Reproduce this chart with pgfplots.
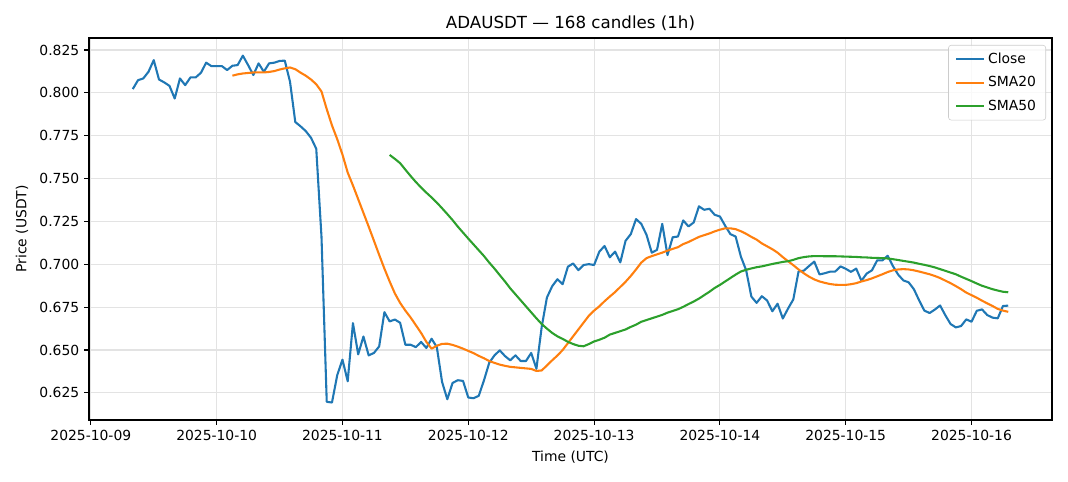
\documentclass[border=0pt]{standalone}
\usepackage{pgfplots}
\pgfplotsset{compat=1.18}
\usepackage{fontspec}
\setmainfont{DejaVu Sans}
\definecolor{tabblue}{HTML}{1F77B4}
\definecolor{taborange}{HTML}{FF7F0E}
\definecolor{tabgreen}{HTML}{2CA02C}
\begin{document}
\begin{tikzpicture}
\useasboundingbox (0,0) rectangle (768.96bp,346.32bp);
\begin{axis}[
  at={(64.08bp,43.92bp)}, anchor=south west,
  scale only axis, width=693.36bp, height=275.04bp,
  xmin=-0.35, xmax=183.35, ymin=0.6092, ymax=0.832,
  xtick={0,24,48,72,96,120,144,168},
  xticklabels={2025-10-09,2025-10-10,2025-10-11,2025-10-12,2025-10-13,2025-10-14,2025-10-15,2025-10-16},
  ytick={0.625,0.65,0.675,0.7,0.725,0.75,0.775,0.8,0.825},
  yticklabel style={/pgf/number format/.cd,fixed,fixed zerofill,precision=3,assume math mode=true},
  /pgf/number format/assume math mode=true,
  scaled y ticks=false,
  tick align=outside, major tick length=3.5bp,
  tick style={black, line width=0.8bp},
  xtick pos=bottom, ytick pos=left,
  axis line style={black, line width=0.8bp},
  grid=major, major grid style={black!11, line width=0.8bp},
  ticklabel style={font=\fontsize{10bp}{12bp}\selectfont},
  label style={font=\fontsize{10bp}{12bp}\selectfont},
  xlabel={Time (UTC)}, ylabel={Price (USDT)},
  xlabel style={at={(axis description cs:0.5,-0.0969)}, anchor=center},
  ylabel style={at={(axis description cs:-0.0696,0.5)}, anchor=center},
  title={ADAUSDT — 168 candles (1h)},
  title style={font=\fontsize{12bp}{14bp}\selectfont, at={(axis description cs:0.5,1)}, anchor=south, yshift=-4bp},
  legend style={at={(axis description cs:0.9938,0.9817)}, anchor=north east,
    draw=black!20, rounded corners=2bp, fill=white, fill opacity=0.8, text opacity=1, draw opacity=1,
    font=\fontsize{10bp}{12bp}\selectfont, row sep=4bp, inner xsep=5bp, inner ysep=3.5bp},
  legend cell align=left,
  legend image code/.code={\draw[#1, line width=1.5bp] (0bp,0bp) -- (20bp,0bp);},
]
\addplot[tabblue, line width=1.5bp, line join=round] coordinates {
(8,0.8022)(9,0.8074)(10,0.8084)(11,0.8123)(12,0.8191)(13,0.8078)(14,0.8061)(15,0.8041)(16,0.7967)(17,0.8084)
(18,0.8045)(19,0.8090)(20,0.8090)(21,0.8117)(22,0.8176)(23,0.8156)(24,0.8156)(25,0.8156)(26,0.8133)(27,0.8158)
(28,0.8162)(29,0.8217)(30,0.8162)(31,0.8104)(32,0.8172)(33,0.8123)(34,0.8172)(35,0.8176)(36,0.8186)(37,0.8188)
(38,0.8064)(39,0.7830)(40,0.7805)(41,0.7777)(42,0.7738)(43,0.7674)(44,0.7160)(45,0.6198)(46,0.6194)(47,0.6353)
(48,0.6444)(49,0.6318)(50,0.6657)(51,0.6475)(52,0.6579)(53,0.6469)(54,0.6483)(55,0.6521)(56,0.6721)(57,0.6667)
(58,0.6678)(59,0.6659)(60,0.6531)(61,0.6531)(62,0.6517)(63,0.6547)(64,0.6512)(65,0.6566)(66,0.6517)(67,0.6314)
(68,0.6213)(69,0.6308)(70,0.6324)(71,0.6320)(72,0.6223)(73,0.6219)(74,0.6233)(75,0.6324)(76,0.6426)(77,0.6469)
(78,0.6498)(79,0.6465)(80,0.6440)(81,0.6469)(82,0.6436)(83,0.6436)(84,0.6483)(85,0.6391)(86,0.6634)(87,0.6806)
(88,0.6872)(89,0.6913)(90,0.6884)(91,0.6986)(92,0.7005)(93,0.6966)(94,0.6996)(95,0.7001)(96,0.6996)(97,0.7074)
(98,0.7107)(99,0.7041)(100,0.7074)(101,0.7011)(102,0.7137)(103,0.7176)(104,0.7264)(105,0.7236)(106,0.7172)(107,0.7068)
(108,0.7084)(109,0.7236)(110,0.7054)(111,0.7158)(112,0.7162)(113,0.7256)(114,0.7221)(115,0.7244)(116,0.7338)(117,0.7318)
(118,0.7324)(119,0.7289)(120,0.7279)(121,0.7225)(122,0.7176)(123,0.7162)(124,0.7045)(125,0.6966)(126,0.6812)(127,0.6775)
(128,0.6814)(129,0.6789)(130,0.6726)(131,0.6770)(132,0.6684)(133,0.6742)(134,0.6795)(135,0.6958)(136,0.6963)(137,0.6990)
(138,0.7016)(139,0.6941)(140,0.6948)(141,0.6957)(142,0.6958)(143,0.6988)(144,0.6974)(145,0.6956)(146,0.6975)(147,0.6904)
(148,0.6946)(149,0.6965)(150,0.7023)(151,0.7023)(152,0.7050)(153,0.6990)(154,0.6940)(155,0.6906)(156,0.6895)(157,0.6855)
(158,0.6790)(159,0.6730)(160,0.6716)(161,0.6736)(162,0.6760)(163,0.6703)(164,0.6652)(165,0.6632)(166,0.6640)(167,0.6679)
(168,0.6665)(169,0.6729)(170,0.6737)(171,0.6704)(172,0.6689)(173,0.6685)(174,0.6757)(175,0.6759)
};
\addlegendentry{Close}
\addplot[taborange, line width=1.5bp, line join=round] coordinates {
(27,0.8100)(28,0.8108)(29,0.8113)(30,0.8116)(31,0.8119)(32,0.8119)(33,0.8119)(34,0.8122)(35,0.8127)(36,0.8136)
(37,0.8143)(38,0.8148)(39,0.8138)(40,0.8118)(41,0.8100)(42,0.8078)(43,0.8050)(44,0.8008)(45,0.7905)(46,0.7810)
(47,0.7730)(48,0.7640)(49,0.7535)(50,0.7460)(51,0.7380)(52,0.7300)(53,0.7220)(54,0.7138)(55,0.7055)(56,0.6975)
(57,0.6900)(58,0.6830)(59,0.6775)(60,0.6730)(61,0.6690)(62,0.6645)(63,0.6600)(64,0.6548)(65,0.6508)(66,0.6525)
(67,0.6536)(68,0.6537)(69,0.6530)(70,0.6520)(71,0.6508)(72,0.6495)(73,0.6482)(74,0.6466)(75,0.6452)(76,0.6436)
(77,0.6425)(78,0.6415)(79,0.6408)(80,0.6402)(81,0.6399)(82,0.6396)(83,0.6393)(84,0.6390)(85,0.6378)(86,0.6381)
(87,0.6410)(88,0.6440)(89,0.6468)(90,0.6500)(91,0.6540)(92,0.6580)(93,0.6620)(94,0.6660)(95,0.6700)(96,0.6730)
(97,0.6755)(98,0.6785)(99,0.6812)(100,0.6838)(101,0.6868)(102,0.6898)(103,0.6932)(104,0.6970)(105,0.7010)(106,0.7036)
(107,0.7048)(108,0.7058)(109,0.7068)(110,0.7080)(111,0.7090)(112,0.7100)(113,0.7118)(114,0.7130)(115,0.7145)(116,0.7160)
(117,0.7170)(118,0.7180)(119,0.7192)(120,0.7202)(121,0.7210)(122,0.7210)(123,0.7205)(124,0.7193)(125,0.7178)(126,0.7160)
(127,0.7144)(128,0.7122)(129,0.7105)(130,0.7088)(131,0.7068)(132,0.7042)(133,0.7018)(134,0.6995)(135,0.6970)(136,0.6948)
(137,0.6928)(138,0.6912)(139,0.6900)(140,0.6892)(141,0.6885)(142,0.6881)(143,0.6880)(144,0.6880)(145,0.6884)(146,0.6890)
(147,0.6900)(148,0.6908)(149,0.6918)(150,0.6930)(151,0.6942)(152,0.6955)(153,0.6965)(154,0.6970)(155,0.6972)(156,0.6970)
(157,0.6965)(158,0.6958)(159,0.6950)(160,0.6942)(161,0.6932)(162,0.6920)(163,0.6905)(164,0.6890)(165,0.6873)(166,0.6855)
(167,0.6835)(168,0.6820)(169,0.6805)(170,0.6788)(171,0.6772)(172,0.6757)(173,0.6740)(174,0.6730)(175,0.6723)
};
\addlegendentry{SMA20}
\addplot[tabgreen, line width=1.5bp, line join=round] coordinates {
(57,0.7638)(58,0.7615)(59,0.7590)(60,0.7552)(61,0.7515)(62,0.7480)(63,0.7448)(64,0.7418)(65,0.7390)(66,0.7360)
(67,0.7327)(68,0.7293)(69,0.7258)(70,0.7220)(71,0.7185)(72,0.7150)(73,0.7116)(74,0.7082)(75,0.7048)(76,0.7010)
(77,0.6975)(78,0.6937)(79,0.6900)(80,0.6860)(81,0.6825)(82,0.6790)(83,0.6755)(84,0.6720)(85,0.6685)(86,0.6652)
(87,0.6625)(88,0.6600)(89,0.6580)(90,0.6565)(91,0.6548)(92,0.6535)(93,0.6525)(94,0.6522)(95,0.6535)(96,0.6550)
(97,0.6560)(98,0.6572)(99,0.6590)(100,0.6600)(101,0.6610)(102,0.6620)(103,0.6635)(104,0.6648)(105,0.6665)(106,0.6675)
(107,0.6685)(108,0.6695)(109,0.6705)(110,0.6718)(111,0.6728)(112,0.6738)(113,0.6752)(114,0.6768)(115,0.6783)(116,0.6800)
(117,0.6820)(118,0.6840)(119,0.6862)(120,0.6880)(121,0.6900)(122,0.6920)(123,0.6940)(124,0.6958)(125,0.6968)(126,0.6976)
(127,0.6983)(128,0.6988)(129,0.6995)(130,0.7002)(131,0.7008)(132,0.7014)(133,0.7018)(134,0.7026)(135,0.7036)(136,0.7042)
(137,0.7046)(138,0.7048)(139,0.7048)(140,0.7047)(141,0.7047)(142,0.7047)(143,0.7046)(144,0.7045)(145,0.7044)(146,0.7043)
(147,0.7041)(148,0.7040)(149,0.7038)(150,0.7037)(151,0.7036)(152,0.7034)(153,0.7030)(154,0.7025)(155,0.7020)(156,0.7015)
(157,0.7010)(158,0.7003)(159,0.6997)(160,0.6990)(161,0.6982)(162,0.6972)(163,0.6962)(164,0.6952)(165,0.6942)(166,0.6928)
(167,0.6915)(168,0.6902)(169,0.6888)(170,0.6875)(171,0.6865)(172,0.6855)(173,0.6847)(174,0.6840)(175,0.6837)
};
\addlegendentry{SMA50}
\end{axis}
\end{tikzpicture}
\end{document}
